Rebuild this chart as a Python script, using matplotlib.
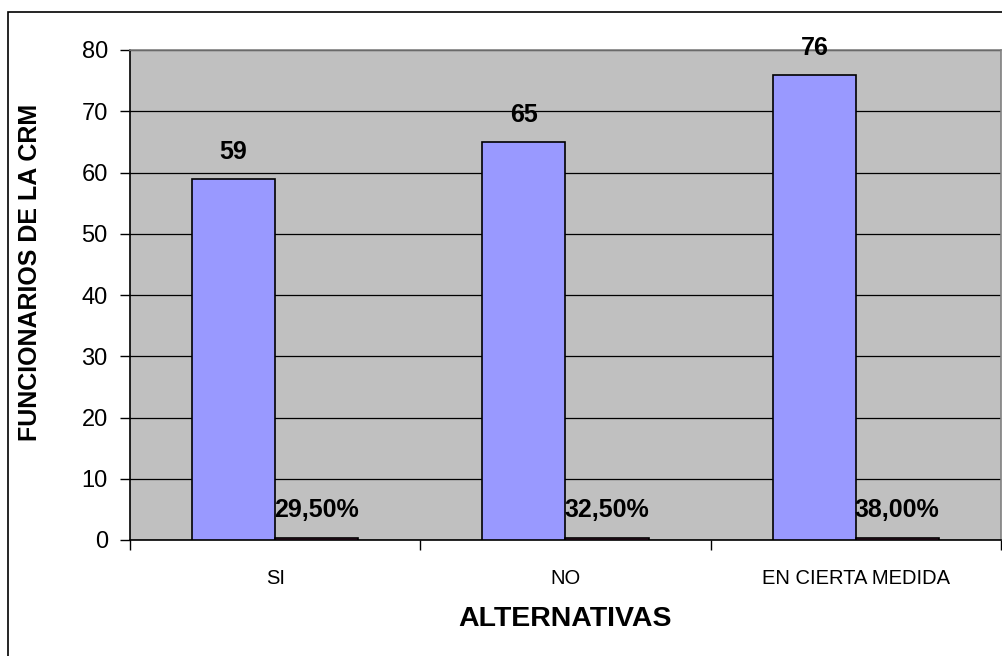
import matplotlib
matplotlib.use("Agg")
import matplotlib.pyplot as plt
from matplotlib.patches import Rectangle

categories = ["SI", "NO", "EN CIERTA MEDIDA"]
funcionarios = [59, 65, 76]
porcentajes = [0.295, 0.325, 0.38]
porcentaje_labels = ["29,50%", "32,50%", "38,00%"]
y_ticks = [0, 10, 20, 30, 40, 50, 60, 70, 80]

plt.rcParams["font.family"] = ["Liberation Sans", "DejaVu Sans"]

fig = plt.figure(figsize=(10.03, 6.56), dpi=100)
W, H = 1003, 656
ax = fig.add_axes([130 / W, 1 - 540 / H, 871 / W, 490 / H])

# outer chart border
fig.patches.append(Rectangle((8 / W, -0.05), 1.2, 1 - 12 / H + 0.05,
                             transform=fig.transFigure, fill=False,
                             edgecolor="black", linewidth=1.2))

ax.set_facecolor("#C0C0C0")
bw = 0.286
x = list(range(len(categories)))
b1 = ax.bar([i - bw / 2 for i in x], funcionarios, width=bw,
            color="#9999FF", edgecolor="black", linewidth=1.2, zorder=3)
b2 = ax.bar([i + bw / 2 for i in x], porcentajes, width=bw,
            color="#993366", edgecolor="black", linewidth=1.2, zorder=3)

for rect, v in zip(b1, funcionarios):
    ax.annotate(str(v), (rect.get_x() + rect.get_width() / 2, v),
                xytext=(0, 19), textcoords="offset points",
                ha="center", va="center", fontsize=18, fontweight="bold")
for rect, v, lab in zip(b2, porcentajes, porcentaje_labels):
    ax.annotate(lab, (rect.get_x() + rect.get_width() / 2, v),
                xytext=(0, 20), textcoords="offset points",
                ha="center", va="center", fontsize=18, fontweight="bold")

ax.set_xlim(-0.5, 2.5)
ax.set_ylim(0, 80)
ax.set_yticks(y_ticks)
ax.yaxis.grid(True, color="black", linewidth=0.9, zorder=1)
ax.set_axisbelow(True)
ax.tick_params(axis="y", direction="out", length=7, width=1, labelsize=17, pad=9)

ax.set_xticks(x)
ax.set_xticklabels(categories, fontsize=14.5)
ax.tick_params(axis="x", which="major", length=0, pad=21)
ax.set_xticks([-0.5, 0.5, 1.5, 2.5], minor=True)
ax.tick_params(axis="x", which="minor", direction="out", length=7, width=1)

ax.spines["left"].set_color("black")
ax.spines["bottom"].set_color("black")
ax.spines["top"].set_color("#808080")
ax.spines["right"].set_color("#808080")
for s in ax.spines.values():
    s.set_linewidth(1.2)

ax.set_xlabel("ALTERNATIVAS", fontsize=20.5, fontweight="bold", labelpad=13)
ax.set_ylabel("FUNCIONARIOS DE LA CRM", fontsize=18, fontweight="bold")
ax.yaxis.set_label_coords(-0.101, 0.547)

fig.savefig("out.png", dpi=100)
